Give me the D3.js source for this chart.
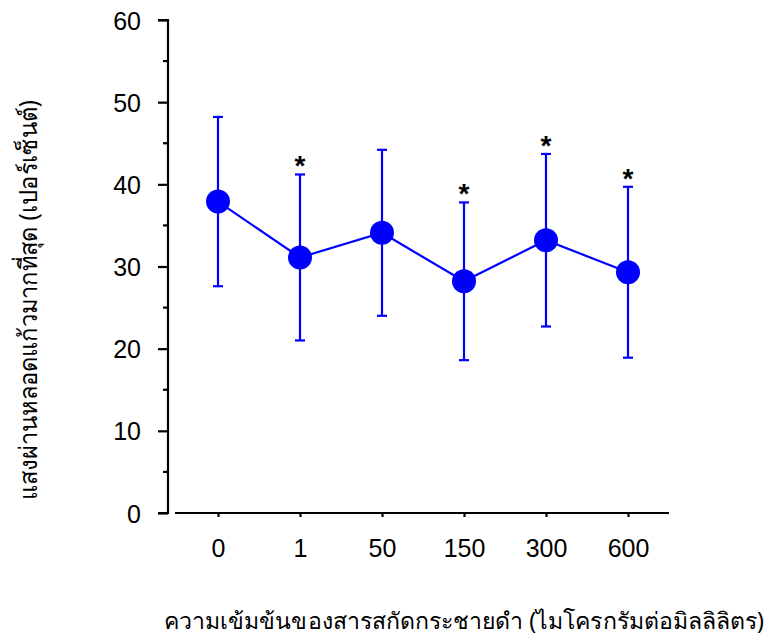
<!DOCTYPE html>
<html>
<head>
<meta charset="utf-8">
<script src="https://cdn.jsdelivr.net/npm/d3@7"></script>
<style>
  html, body { margin: 0; padding: 0; background: #ffffff; }
  svg { display: block; }
</style>
</head>
<body>
<svg id="chart" width="771" height="640"></svg>
<script>
// Concentrations of extract (µg/mL) shown on the x axis
const categories = ["0", "1", "50", "150", "300", "600"];
// Mean maximum vessel-constriction response (%)
const means = [37.9, 31.1, 34.1, 28.2, 33.2, 29.3];
// Standard deviation (symmetric error bars)
const errors = [10.3, 10.1, 10.1, 9.6, 10.5, 10.4];
// Groups marked as significant
const significant = [false, true, false, true, true, true];
// Y axis ticks
const yTicks = [0, 10, 20, 30, 40, 50, 60];
const yMinorTicks = [5, 15, 25, 35, 45, 55];

const yTitle = "แสงผ่านหลอดแก้วมากที่สุด (เปอร์เซ็นต์)";
const xTitle = "ความเข้มข้นของสารสกัดกระชายดำ (ไมโครกรัมต่อมิลลิลิตร)";

const svg = d3.select("#chart");
const blue = "#0000ff";
const fontNum = "'Liberation Sans', Arial, sans-serif";
const fontThai = "'Noto Sans', 'DejaVu Sans', sans-serif";

const y = d3.scaleLinear().domain([0, 60]).range([513, 20]);
const x = d3.scalePoint().domain(categories).range([177, 669]).padding(0.5);

// Y axis
const yAxisX = 168;
const yAxis = svg.append("g").attr("transform", `translate(${yAxisX},0)`)
  .call(d3.axisLeft(y).tickValues(yTicks).tickSize(10).tickPadding(17).tickFormat(d3.format("d")));
yAxis.select(".domain").attr("d", `M-10,${y(60)}H0V${y(0)}H-10`);
yAxis.append("g").selectAll("line").data(yMinorTicks).join("line")
  .attr("x1", -5).attr("x2", 0).attr("y1", d => y(d)).attr("y2", d => y(d));

// X axis
const xAxis = svg.append("g").attr("transform", `translate(0,${y(0)})`)
  .call(d3.axisBottom(x).tickSize(4).tickPadding(22));
xAxis.select(".domain").attr("d", `M175,0H669`);

[yAxis, xAxis].forEach(g => {
  g.selectAll(".domain, line").attr("stroke", "#000").attr("stroke-width", 2.2);
  g.selectAll("text").attr("font-family", fontNum).attr("font-size", 25).attr("fill", "#000");
});
yAxis.selectAll(".tick text").attr("dy", "0.36em");
xAxis.selectAll(".tick text").attr("dy", "0.71em");

const data = categories.map((c, i) => ({ c, m: means[i], e: errors[i], s: significant[i] }));

// Error bars
const eb = svg.append("g").attr("stroke", blue).attr("stroke-width", 2.2);
eb.selectAll("line.v").data(data).join("line").attr("class", "v")
  .attr("x1", d => x(d.c)).attr("x2", d => x(d.c))
  .attr("y1", d => y(d.m + d.e)).attr("y2", d => y(d.m - d.e));
eb.selectAll("line.t").data(data).join("line").attr("class", "t")
  .attr("x1", d => x(d.c) - 5).attr("x2", d => x(d.c) + 5)
  .attr("y1", d => y(d.m + d.e)).attr("y2", d => y(d.m + d.e));
eb.selectAll("line.b").data(data).join("line").attr("class", "b")
  .attr("x1", d => x(d.c) - 5).attr("x2", d => x(d.c) + 5)
  .attr("y1", d => y(d.m - d.e)).attr("y2", d => y(d.m - d.e));

// Mean line
svg.append("path").datum(data)
  .attr("fill", "none").attr("stroke", blue).attr("stroke-width", 2.2)
  .attr("d", d3.line().x(d => x(d.c)).y(d => y(d.m)));

// Markers
svg.append("g").selectAll("circle").data(data).join("circle")
  .attr("cx", d => x(d.c)).attr("cy", d => y(d.m)).attr("r", 12).attr("fill", blue);

// Significance asterisks
svg.append("g").selectAll("text").data(data.filter(d => d.s)).join("text")
  .attr("x", d => x(d.c)).attr("y", d => y(d.m + d.e) + 1)
  .attr("text-anchor", "middle").attr("font-family", fontNum)
  .attr("font-size", 28).attr("font-weight", "bold").attr("fill", "#000")
  .text("*");

// Axis titles
svg.append("text")
  .attr("transform", `translate(37,300) rotate(-90)`)
  .attr("text-anchor", "middle").attr("font-family", fontThai)
  .attr("font-size", 25).attr("fill", "#000")
  .attr("textLength", 400).attr("lengthAdjust", "spacingAndGlyphs")
  .text(yTitle);
svg.append("text")
  .attr("x", 464).attr("y", 629)
  .attr("text-anchor", "middle").attr("font-family", fontThai)
  .attr("font-size", 23).attr("fill", "#000")
  .attr("textLength", 600).attr("lengthAdjust", "spacingAndGlyphs")
  .text(xTitle);
</script>
</body>
</html>
